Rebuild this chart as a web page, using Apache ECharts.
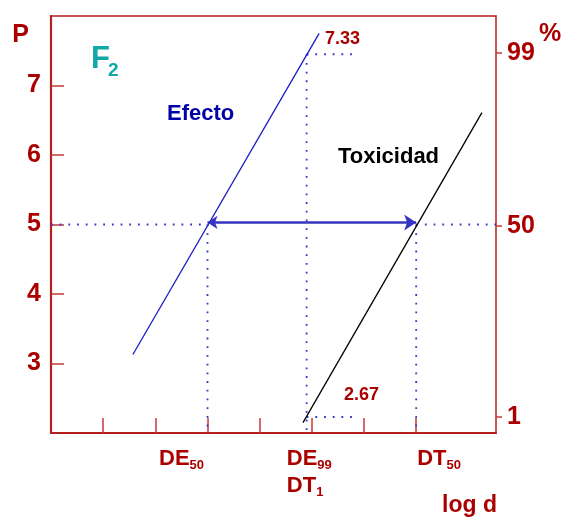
<!DOCTYPE html>
<html>
<head>
<meta charset="utf-8">
<script src="https://cdn.jsdelivr.net/npm/echarts@6/dist/echarts.min.js"></script>
<style>html,body{margin:0;padding:0;background:#fff;}#c{width:561px;height:520px;}</style>
</head>
<body>
<div id="c"></div>
<script>
// ---- data ----
const xMin = 0, xMax = 8.53, yMin = 2, yMax = 8;
const xTicks = [1, 2, 3, 4, 5, 6, 7];
const xLabelAt = [2.07, 4.52, 7.02];
const xLabels = ['{b|DE}{s|50}', '{b|DE}{s|99}\n{b|DT}{s|1}', '{b|DT}{s|50}'];
const leftTicks = [3, 4, 5, 6, 7];
const rightTickAt = [2.23, 4.98, 7.47];
const rightTickLabels = ['1', '50', '99'];
const efectoX = [1.57, 5.14];
const efectoP = [3.13, 7.75];
const toxX = [4.83, 8.26];
const toxP = [2.15, 6.61];
const de50 = 3.0, dt50 = 7.0, de99 = 4.9;
const p50 = 5.0, p99 = 7.45, p1 = 2.23;
const p99End = 5.85, p1End = 5.77;
const arrowP = 5.03;

const RED = '#aa0000';
const AXIS = '#b41e1e';
const DOT = '#3535cc';

function pairs(xs, ys) { return xs.map((x, i) => [x, ys[i]]); }
function dotted(pts) {
  return {
    type: 'line', data: pts, symbol: 'none', silent: true,
    lineStyle: { color: DOT, width: 1.8, type: [1.8, 6.9] }, z: 1
  };
}

const chart = echarts.init(document.getElementById('c'), null, { renderer: 'canvas' });
chart.setOption({
  animation: false,
  backgroundColor: '#fff',
  grid: { left: 51, right: 65, top: 16, bottom: 87 },
  xAxis: [{
    type: 'value', min: xMin, max: xMax, interval: 1, position: 'bottom',
    splitLine: { show: false },
    axisLine: { onZero: false, lineStyle: { color: AXIS, width: 2.2 } },
    axisTick: { inside: true, length: 15, customValues: xTicks, lineStyle: { color: '#c23a3a', width: 1.5 } },
    axisLabel: {
      customValues: xLabelAt, align: 'left', margin: 12,
      formatter: function (v) {
        let best = 0;
        xLabelAt.forEach((p, i) => { if (Math.abs(p - v) < Math.abs(xLabelAt[best] - v)) best = i; });
        return xLabels[best];
      },
      rich: {
        b: { fontFamily: 'Liberation Sans', fontWeight: 'bold', fontSize: 22, color: RED, lineHeight: 27 },
        s: { fontFamily: 'Liberation Sans', fontWeight: 'bold', fontSize: 13, color: RED, lineHeight: 8, verticalAlign: 'bottom' }
      }
    }
  }, {
    type: 'value', min: xMin, max: xMax, position: 'top',
    splitLine: { show: false }, axisTick: { show: false }, axisLabel: { show: false },
    axisLine: { show: true, onZero: false, lineStyle: { color: AXIS, width: 1.5 } }
  }],
  yAxis: [{
    type: 'value', min: yMin, max: yMax, interval: 1, position: 'left',
    splitLine: { show: false },
    axisLine: { show: true, onZero: false, lineStyle: { color: AXIS, width: 2.2 } },
    axisTick: { show: true, inside: true, length: 13, customValues: leftTicks, lineStyle: { color: '#c23a3a', width: 1.5 } },
    axisLabel: {
      customValues: leftTicks, margin: 10,
      fontFamily: 'Liberation Sans', fontWeight: 'bold', fontSize: 25, color: RED
    }
  }, {
    type: 'value', min: yMin, max: yMax, position: 'right',
    splitLine: { show: false },
    axisLine: { show: true, onZero: false, lineStyle: { color: AXIS, width: 1.5 } },
    axisTick: { show: true, inside: false, length: 6, customValues: rightTickAt, lineStyle: { color: '#c23a3a', width: 1.5 } },
    axisLabel: {
      customValues: rightTickAt, margin: 11,
      fontFamily: 'Liberation Sans', fontWeight: 'bold', fontSize: 25, color: RED,
      formatter: function (v) {
        let best = 0;
        rightTickAt.forEach((p, i) => { if (Math.abs(p - v) < Math.abs(rightTickAt[best] - v)) best = i; });
        return rightTickLabels[best];
      }
    }
  }],
  series: [
    dotted([[xMin, p50], [de50, p50]]),
    dotted([[de50, p50], [de50, yMin]]),
    dotted([[dt50, p50], [xMax, p50]]),
    dotted([[dt50, p50], [dt50, yMin]]),
    dotted([[de99, p99], [de99, yMin]]),
    dotted([[de99, p99], [p99End, p99]]),
    dotted([[de99, p1], [p1End, p1]]),
    {
      type: 'line', data: pairs(efectoX, efectoP), symbol: 'none', silent: true,
      lineStyle: { color: '#1c1cc4', width: 1.3 }, z: 3
    },
    {
      type: 'line', data: pairs(toxX, toxP), symbol: 'none', silent: true,
      lineStyle: { color: '#000', width: 1.3 }, z: 3
    },
    {
      type: 'lines', coordinateSystem: 'cartesian2d', silent: true, z: 4,
      symbol: ['arrow', 'arrow'], symbolSize: [10, 12],
      lineStyle: { color: '#3434c0', width: 2.6, opacity: 1 },
      data: [{ coords: [[de50, arrowP], [dt50, arrowP]] }]
    }
  ],
  graphic: [
    { type: 'text', style: { x: 20.5, y: 35, text: 'P', align: 'center', verticalAlign: 'middle', font: 'bold 25px "Liberation Sans"', fill: RED } },
    { type: 'text', style: { x: 550, y: 34, text: '%', align: 'center', verticalAlign: 'middle', font: 'bold 25px "Liberation Sans"', fill: RED } },
    { type: 'text', style: { x: 91, y: 59, text: 'F', align: 'left', verticalAlign: 'middle', font: 'bold 31px "Liberation Sans"', fill: '#12a8a8' } },
    { type: 'text', style: { x: 108, y: 71, text: '2', align: 'left', verticalAlign: 'middle', font: 'bold 19px "Liberation Sans"', fill: '#12a8a8' } },
    { type: 'text', style: { x: 167, y: 114, text: 'Efecto', align: 'left', verticalAlign: 'middle', font: 'bold 22px "Liberation Sans"', fill: '#0000a8' } },
    { type: 'text', style: { x: 338, y: 157, text: 'Toxicidad', align: 'left', verticalAlign: 'middle', font: 'bold 22px "Liberation Sans"', fill: '#000' } },
    { type: 'text', style: { x: 325, y: 39, text: '7.33', align: 'left', verticalAlign: 'middle', font: 'bold 18px "Liberation Sans"', fill: RED } },
    { type: 'text', style: { x: 344, y: 395, text: '2.67', align: 'left', verticalAlign: 'middle', font: 'bold 18px "Liberation Sans"', fill: RED } },
    { type: 'text', style: { x: 442, y: 506, text: 'log d', align: 'left', verticalAlign: 'middle', font: 'bold 23px "Liberation Sans"', fill: RED } }
  ]
});
</script>
</body>
</html>
